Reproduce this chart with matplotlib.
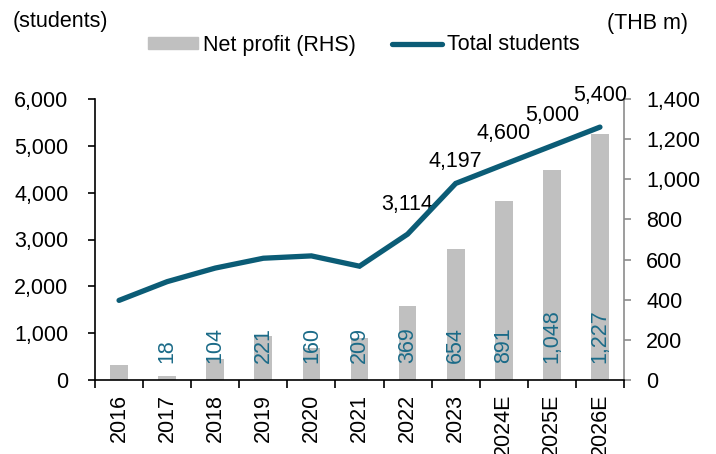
import matplotlib
matplotlib.use("Agg")
import matplotlib.pyplot as plt
from matplotlib.patches import Patch
from matplotlib.lines import Line2D
from matplotlib.ticker import FuncFormatter, FixedLocator

plt.rcParams['font.family'] = ['Liberation Sans', 'DejaVu Sans']
plt.rcParams['font.size'] = 15.5

# data
years = ['2016', '2017', '2018', '2019', '2020', '2021', '2022', '2023',
         '2024E', '2025E', '2026E']
net_profit = [75, 18, 104, 221, 160, 209, 369, 654, 891, 1048, 1227]   # THB m (RHS)
students = [1700, 2100, 2390, 2600, 2650, 2430, 3114, 4197, 4600, 5000, 5400]
profit_labels = ['', '18', '104', '221', '160', '209', '369', '654', '891', '1,048', '1,227']
student_labels = ['', '', '', '', '', '', '3,114', '4,197', '4,600', '5,000', '5,400']

line_col = '#0b5c76'
label_col = '#1b6b88'
bar_col = '#c0c0c0'
fs = 15.5

fig = plt.figure(figsize=(7.16, 4.54), dpi=100)
ax = fig.add_axes([95/716, 74/454, 529/716, 281/454])
ax2 = ax.twinx()
x = list(range(len(years)))

# bars on the right axis
ax2.bar(x, net_profit, width=0.37, color=bar_col, zorder=1)
for xi, lab in zip(x, profit_labels):
    if lab:
        ax2.text(xi, 85, lab, rotation=90, ha='center', va='bottom',
                 color=label_col, fontsize=fs, zorder=3)
ax2.set_ylim(0, 1400)
ax2.yaxis.set_major_locator(FixedLocator(range(0, 1401, 200)))
ax2.yaxis.set_major_formatter(FuncFormatter(lambda v, p: f'{int(v):,}'))
ax2.tick_params(axis='y', direction='out', length=5, width=1.2, color='#8c8c8c', pad=11)

# student line on the left axis, drawn above the bars
ax.set_zorder(ax2.get_zorder() + 1)
ax.patch.set_visible(False)
ax.plot(x, students, color=line_col, lw=3.8, solid_capstyle='round',
        solid_joinstyle='miter', zorder=4)
offsets = [15, 15, 15, 15, 15, 15, 14, 8, 15, 14, 15]
for xi, yv, lab, off in zip(x, students, student_labels, offsets):
    if lab:
        ax.annotate(lab, (xi, yv), xytext=(0, off), textcoords='offset points',
                    ha='center', va='bottom', fontsize=fs, color='black')
ax.set_ylim(0, 6000)
ax.set_xlim(-0.5, len(years) - 0.5)
ax.yaxis.set_major_locator(FixedLocator(range(0, 6001, 1000)))
ax.yaxis.set_major_formatter(FuncFormatter(lambda v, p: f'{int(v):,}'))
ax.tick_params(axis='y', direction='out', length=5, width=1.2, pad=14)

ax.set_xticks(x)
ax.set_xticklabels(years, rotation=90)
ax.set_xticks([i - 0.5 for i in range(len(years) + 1)], minor=True)
ax.tick_params(axis='x', which='major', length=0, pad=10)
ax.tick_params(axis='x', which='minor', direction='out', length=6, width=1.2)

for a in (ax, ax2):
    a.spines['top'].set_visible(False)
ax.spines['right'].set_visible(False)
ax2.spines['left'].set_visible(False)
ax2.spines['bottom'].set_visible(False)
ax.spines['left'].set_linewidth(1.2)
ax.spines['bottom'].set_linewidth(1.2)
ax2.spines['right'].set_color('#8c8c8c')
ax2.spines['right'].set_linewidth(1.2)

fig.text(13/716, 1 - 22/454, '(students)', ha='left', va='center', fontsize=fs)
fig.text(688/716, 1 - 23/454, '(THB m)', ha='right', va='center', fontsize=fs)

handles = [Patch(color=bar_col), Line2D([], [], color=line_col, lw=3.8, solid_capstyle='round')]
fig.legend(handles, ['Net profit (RHS)', 'Total students'], ncol=2, frameon=False,
           loc='center', bbox_to_anchor=(364/716, 1 - 45/454), fontsize=fs,
           handlelength=2.3, handleheight=0.5, handletextpad=0.25, columnspacing=1.7)

fig.savefig('out.png', dpi=100)
